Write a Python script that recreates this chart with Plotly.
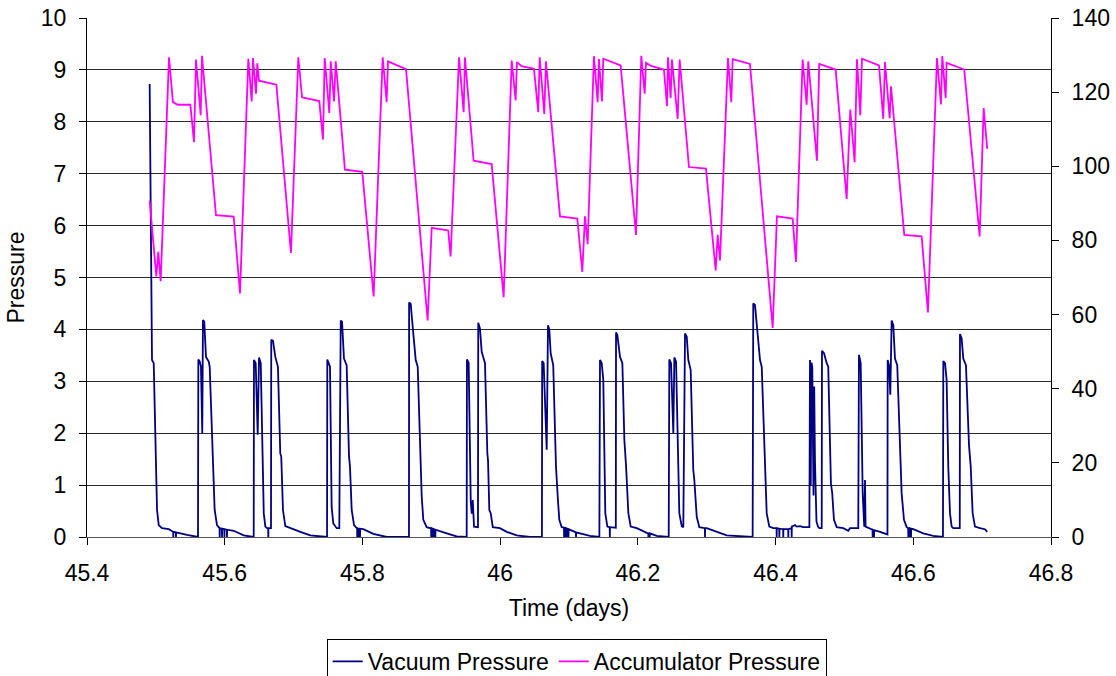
import plotly.graph_objects as go

# ---- Vacuum pressure (left axis), time in days ----
vac_time = [
    45.4910, 45.4929, 45.4944, 45.4969, 45.4992, 45.5017, 45.5042, 45.5089, 45.5187, 45.5235,
    45.5251, 45.5253, 45.5255, 45.5290, 45.5292, 45.5294, 45.5452, 45.5612,
    45.5617, 45.5636, 45.5655, 45.5674, 45.5684, 45.5703, 45.5728, 45.5768, 45.5782, 45.5819,
    45.5829, 45.5854, 45.5888, 45.5913, 45.5925, 45.5927, 45.5929, 45.5959, 45.5961, 45.5963,
    45.5994, 45.5996, 45.5998, 45.6031, 45.6033, 45.6035, 45.6131, 45.6276, 45.6421,
    45.6425, 45.6450, 45.6479, 45.6498, 45.6523, 45.6567, 45.6590, 45.6614, 45.6631, 45.6633,
    45.6635, 45.6672, 45.6676, 45.6701, 45.6735, 45.6773, 45.6807, 45.6821, 45.6846, 45.6880,
    45.6953, 45.7098, 45.7243, 45.7486,
    45.7490, 45.7510, 45.7529, 45.7553, 45.7577, 45.7626, 45.7664, 45.7685, 45.7704, 45.7732,
    45.7771, 45.7805, 45.7819, 45.7844, 45.7878, 45.7917, 45.7923, 45.7925, 45.7927, 45.7943,
    45.7945, 45.7947, 45.7963, 45.7965, 45.7967, 45.8013, 45.8158, 45.8352,
    45.8676, 45.8678, 45.8701, 45.8739, 45.8774, 45.8803, 45.8836, 45.8861, 45.8884, 45.8933,
    45.8981, 45.8997, 45.8999, 45.9001, 45.9017, 45.9019, 45.9021, 45.9037, 45.9039, 45.9041,
    45.9057, 45.9059, 45.9061, 45.9224, 45.9369, 45.9514,
    45.9518, 45.9543, 45.9573, 45.9588, 45.9602, 45.9621, 45.9678, 45.9682, 45.9707, 45.9732,
    45.9780, 45.9814, 45.9824, 45.9843, 45.9863, 45.9893, 45.9997, 46.0095, 46.0240, 46.0433,
    46.0607, 46.0610, 46.0632, 46.0676, 46.0695, 46.0714, 46.0734, 46.0771, 46.0811, 46.0836,
    46.0859, 46.0894, 46.0927, 46.0929, 46.0931, 46.0952, 46.0954, 46.0956, 46.0972, 46.0974,
    46.0976, 46.0991, 46.0993, 46.0995, 46.1100, 46.1102, 46.1104, 46.1160, 46.1305, 46.1441,
    46.1450, 46.1475, 46.1498, 46.1527, 46.1557, 46.1585, 46.1591, 46.1593, 46.1595, 46.1680,
    46.1683, 46.1702, 46.1741, 46.1775, 46.1804, 46.1829, 46.1862, 46.1896, 46.1984, 46.2129,
    46.2151, 46.2153, 46.2155, 46.2171, 46.2173, 46.2175, 46.2274, 46.2448,
    46.2457, 46.2482, 46.2515, 46.2530, 46.2555, 46.2602, 46.2637, 46.2660, 46.2685, 46.2710,
    46.2733, 46.2767, 46.2805, 46.2820, 46.2855, 46.2893, 46.2973, 46.2975, 46.2977, 46.3000,
    46.3145, 46.3290, 46.3667,
    46.3676, 46.3701, 46.3734, 46.3774, 46.3799, 46.3837, 46.3871, 46.3909, 46.3967, 46.4014,
    46.4016, 46.4018, 46.4053, 46.4055, 46.4057, 46.4110, 46.4112, 46.4114, 46.4183, 46.4185,
    46.4187, 46.4232, 46.4234, 46.4236, 46.4283, 46.4307, 46.4356, 46.4399, 46.4491,
    46.4500, 46.4511, 46.4522, 46.4533, 46.4551, 46.4561, 46.4572, 46.4594, 46.4616, 46.4635,
    46.4670, 46.4674, 46.4703, 46.4743, 46.4765, 46.4804, 46.4823, 46.4848, 46.4888, 46.4983,
    46.5056, 46.5081, 46.5201,
    46.5211, 46.5236, 46.5265, 46.5288, 46.5299, 46.5307, 46.5324, 46.5408, 46.5410, 46.5412,
    46.5428, 46.5430, 46.5432, 46.5517, 46.5613, 46.5625,
    46.5628, 46.5647, 46.5666, 46.5686, 46.5710, 46.5734, 46.5767, 46.5807, 46.5831, 46.5865,
    46.5904, 46.5926, 46.5928, 46.5930, 46.5946, 46.5948, 46.5950, 46.5965, 46.5967, 46.5969,
    46.6000, 46.6145, 46.6290, 46.6431,
    46.6436, 46.6461, 46.6484, 46.6508, 46.6533, 46.6557, 46.6581, 46.6675, 46.6678, 46.6702,
    46.6726, 46.6765, 46.6809, 46.6834, 46.6862, 46.6896, 46.6968, 46.7040, 46.7074,
]
vac_pressure = [
    8.73, 4.95, 3.41, 3.35, 2.00, 0.52, 0.23, 0.17, 0.15, 0.10,
    0.10, 0.00, 0.10, 0.09, 0.00, 0.09, 0.04, 0.00,
    3.42, 3.39, 3.28, 2.00, 4.18, 4.15, 3.47, 3.38, 3.28, 1.61,
    1.55, 0.52, 0.23, 0.17, 0.17, 0.00, 0.17, 0.16, 0.00, 0.16,
    0.15, 0.00, 0.15, 0.14, 0.00, 0.14, 0.12, 0.03, 0.00,
    3.41, 3.35, 1.97, 3.46, 3.35, 0.46, 0.20, 0.17, 0.17, 0.00,
    0.17, 0.17, 3.80, 3.78, 3.47, 3.28, 1.61, 1.55, 0.52, 0.21,
    0.17, 0.10, 0.03, 0.00,
    3.42, 3.35, 3.28, 0.58, 0.26, 0.17, 0.17, 4.17, 4.15, 3.44,
    3.31, 1.55, 1.36, 0.52, 0.23, 0.17, 0.17, 0.00, 0.17, 0.16,
    0.00, 0.16, 0.16, 0.00, 0.16, 0.15, 0.06, 0.00,
    0.00, 4.52, 4.49, 3.92, 3.41, 3.28, 2.06, 0.78, 0.33, 0.19,
    0.17, 0.17, 0.00, 0.17, 0.16, 0.00, 0.16, 0.15, 0.00, 0.15,
    0.14, 0.00, 0.14, 0.07, 0.01, 0.00,
    3.42, 3.36, 0.68, 0.45, 0.71, 0.20, 0.19, 4.13, 4.02, 3.57,
    3.35, 1.61, 1.48, 0.52, 0.46, 0.19, 0.17, 0.10, 0.03, 0.00,
    0.00, 3.39, 3.35, 1.68, 4.08, 4.00, 3.54, 3.31, 1.36, 0.78,
    0.33, 0.19, 0.18, 0.00, 0.18, 0.17, 0.00, 0.17, 0.16, 0.00,
    0.16, 0.15, 0.00, 0.15, 0.09, 0.00, 0.09, 0.07, 0.02, 0.00,
    3.41, 3.35, 3.03, 0.46, 0.20, 0.19, 0.19, 0.00, 0.19, 0.18,
    3.94, 3.89, 3.47, 3.35, 1.87, 1.36, 0.46, 0.20, 0.17, 0.08,
    0.07, 0.00, 0.07, 0.07, 0.00, 0.07, 0.02, 0.00,
    3.42, 3.35, 2.00, 3.46, 3.38, 0.46, 0.21, 0.19, 3.92, 3.86,
    3.41, 3.22, 1.29, 1.10, 0.39, 0.19, 0.17, 0.00, 0.17, 0.17,
    0.10, 0.03, 0.00,
    4.50, 4.47, 3.99, 3.41, 3.28, 1.74, 0.46, 0.20, 0.17, 0.17,
    0.00, 0.17, 0.16, 0.00, 0.16, 0.15, 0.00, 0.15, 0.15, 0.00,
    0.15, 0.17, 0.00, 0.20, 0.23, 0.20, 0.21, 0.19, 0.19,
    3.41, 1.00, 3.36, 3.28, 0.80, 2.90, 1.48, 0.30, 0.20, 0.17,
    0.17, 3.59, 3.54, 3.35, 3.28, 1.03, 0.84, 0.33, 0.19, 0.17,
    0.12, 0.17, 0.17,
    3.51, 3.35, 0.84, 0.20, 1.10, 0.20, 0.19, 0.14, 0.00, 0.14,
    0.13, 0.00, 0.13, 0.10, 0.06, 0.05,
    3.41, 3.31, 2.74, 4.17, 4.08, 3.44, 3.31, 1.55, 0.84, 0.33,
    0.19, 0.17, 0.00, 0.17, 0.17, 0.00, 0.17, 0.16, 0.00, 0.16,
    0.15, 0.07, 0.02, 0.00,
    3.39, 3.35, 3.03, 1.36, 0.46, 0.20, 0.17, 0.17, 3.91, 3.83,
    3.44, 3.31, 1.77, 1.36, 0.46, 0.20, 0.17, 0.15, 0.10,
]

# ---- Accumulator pressure (right axis) ----
acc_time = [
    45.4910, 45.5007, 45.5035, 45.5070, 45.5191, 45.5248, 45.5317, 45.5501, 45.5554, 45.5583,
    45.5651, 45.5670, 45.5873, 45.6130, 45.6222, 45.6343, 45.6392, 45.6411, 45.6454, 45.6473,
    45.6498, 45.6750, 45.6962, 45.7069, 45.7123, 45.7373, 45.7427, 45.7452, 45.7519, 45.7540,
    45.7588, 45.7612, 45.7746, 45.7998, 45.8163, 45.8294, 45.8352, 45.8371, 45.8633, 45.8947,
    45.9006, 45.9246, 45.9281, 45.9403, 45.9470, 45.9489, 45.9615, 45.9877, 46.0051, 46.0168,
    46.0225, 46.0244, 46.0312, 46.0491, 46.0554, 46.0574, 46.0641, 46.0665, 46.0869, 46.1121,
    46.1193, 46.1232, 46.1271, 46.1362, 46.1416, 46.1435, 46.1479, 46.1498, 46.1750, 46.1973,
    46.2050, 46.2099, 46.2118, 46.2201, 46.2379, 46.2423, 46.2438, 46.2476, 46.2495, 46.2578,
    46.2607, 46.2742, 46.2989, 46.3130, 46.3159, 46.3193, 46.3309, 46.3357, 46.3377, 46.3628,
    46.3958, 46.4020, 46.4248, 46.4296, 46.4393, 46.4451, 46.4475, 46.4601, 46.4634, 46.4872,
    46.5032, 46.5085, 46.5148, 46.5182, 46.5230, 46.5255, 46.5502, 46.5564, 46.5589, 46.5657,
    46.5676, 46.5869, 46.6121, 46.6213, 46.6344, 46.6402, 46.6421, 46.6470, 46.6484, 46.6740,
    46.6964, 46.7022, 46.7074,
]
acc_pressure = [
    90.7, 70.3, 76.9, 69.0, 129.4, 117.3, 116.6, 116.6, 106.5, 128.8,
    113.8, 129.8, 86.8, 86.4, 65.7, 129.0, 117.5, 129.2, 119.6, 127.8,
    123.1, 122.0, 76.6, 129.4, 118.6, 117.6, 107.2, 129.2, 114.4, 128.3,
    117.5, 128.3, 99.1, 98.5, 64.9, 129.4, 117.3, 128.3, 126.2, 58.4,
    83.4, 82.7, 75.7, 129.4, 114.6, 129.4, 101.5, 100.6, 64.7, 128.5,
    117.8, 128.1, 127.0, 126.3, 114.6, 129.4, 114.1, 128.3, 86.5, 85.9,
    71.5, 86.5, 79.0, 129.7, 117.3, 128.9, 117.5, 129.0, 127.2, 81.5,
    129.8, 119.6, 127.9, 127.0, 126.1, 116.2, 129.4, 118.4, 128.8, 112.8,
    128.8, 99.8, 99.4, 71.9, 81.5, 74.6, 129.2, 117.3, 128.9, 127.6,
    56.4, 86.5, 85.9, 74.2, 128.8, 116.6, 128.3, 101.5, 127.6, 126.1,
    91.2, 115.3, 101.1, 128.9, 113.8, 129.0, 127.2, 112.8, 128.1, 113.0,
    121.6, 81.5, 81.1, 60.6, 129.2, 116.7, 129.7, 118.4, 127.9, 126.1,
    81.1, 115.7, 104.7,
]

x_ticks = [45.4, 45.6, 45.8, 46.0, 46.2, 46.4, 46.6, 46.8]
x_tick_labels = ["45.4", "45.6", "45.8", "46", "46.2", "46.4", "46.6", "46.8"]
left_ticks = list(range(0, 11))
right_ticks = list(range(0, 141, 20))

FONT = "Liberation Sans, Arial, sans-serif"

fig = go.Figure()
fig.add_trace(go.Scatter(
    x=vac_time, y=vac_pressure, name="Vacuum Pressure", mode="lines",
    line=dict(color="#000080", width=1.8), yaxis="y",
))
fig.add_trace(go.Scatter(
    x=acc_time, y=acc_pressure, name="Accumulator Pressure", mode="lines",
    line=dict(color="#FF00FF", width=1.8), yaxis="y2",
))

fig.update_layout(
    width=1116, height=676,
    margin=dict(l=87, r=65, t=18, b=139, autoexpand=False),
    paper_bgcolor="white", plot_bgcolor="white",
    font=dict(family=FONT, size=23, color="black"),
    showlegend=True,
    legend=dict(
        orientation="h", x=0.508, xanchor="center", y=-0.1965, yanchor="top",
        bordercolor="black", borderwidth=1, font=dict(size=23),
        itemwidth=30, tracegroupgap=0,
    ),
    xaxis=dict(
        range=[45.4, 46.8], tickvals=x_ticks, ticktext=x_tick_labels,
        ticks="outside", ticklen=7, tickcolor="black", tickwidth=1,
        showline=True, linecolor="#555555", linewidth=1,
        showgrid=False, zeroline=False, ticklabelstandoff=8, automargin=False,
        title=dict(text="Time (days)", standoff=15, font=dict(size=23)),
    ),
    yaxis=dict(
        range=[0, 10], tickvals=left_ticks,
        ticks="outside", ticklen=7, tickcolor="black", tickwidth=1,
        showline=True, linecolor="black", linewidth=1,
        showgrid=True, gridcolor="#2a2a2a", gridwidth=1,
        zeroline=False, ticklabelstandoff=8, automargin=False,
        title=dict(text="Pressure", standoff=9, font=dict(size=23)),
    ),
    yaxis2=dict(
        range=[0, 140], tickvals=right_ticks, overlaying="y", side="right", anchor="x",
        ticks="outside", ticklen=7, tickcolor="black", tickwidth=1,
        showline=True, linecolor="black", linewidth=1, automargin=False,
        showgrid=False, zeroline=False, ticklabelstandoff=8,
    ),
    yaxis3=dict(
        range=[0, 140], tickvals=right_ticks, overlaying="y", side="right", anchor="x",
        ticks="inside", ticklen=7, tickcolor="black", tickwidth=1, automargin=False,
        showticklabels=False, showline=False, showgrid=False, zeroline=False,
    ),
)

fig.write_html("out.html")
